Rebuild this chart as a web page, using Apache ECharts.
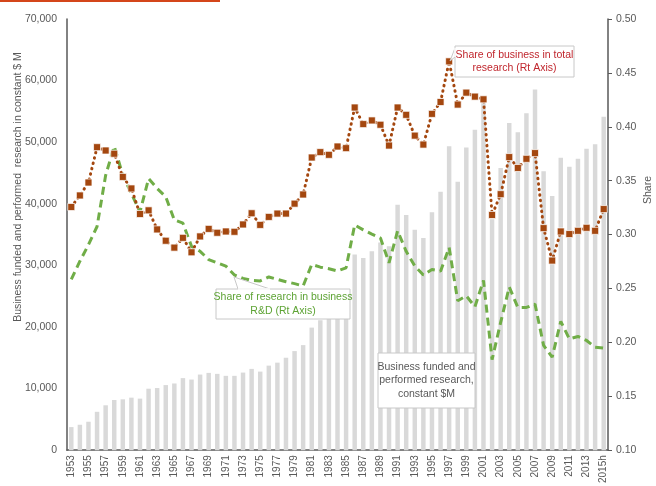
<!DOCTYPE html>
<html>
<head>
<meta charset="utf-8">
<script src="https://cdn.jsdelivr.net/npm/echarts@6/dist/echarts.min.js"></script>
<style>
  html, body { margin: 0; padding: 0; background: #fff; }
  #chart { width: 656px; height: 486px; }
</style>
</head>
<body>
<div id="chart"></div>
<script>
const years = [
  '1953', '1954', '1955', '1956', '1957', '1958', '1959', '1960', '1961', '1962',
  '1963', '1964', '1965', '1966', '1967', '1968', '1969', '1970', '1971', '1972',
  '1973', '1974', '1975', '1976', '1977', '1978', '1979', '1980', '1981', '1982',
  '1983', '1984', '1985', '1986', '1987', '1988', '1989', '1990', '1991', '1992',
  '1993', '1994', '1995', '1996', '1997', '1998', '1999', '2000', '2001', '2002',
  '2003', '2004', '2005', '2006', '2007', '2008', '2009', '2010', '2011', '2012',
  '2013', '2014', '2015h'
]

// business funded and performed research, constant $M (left axis)
const researchSpend = [
  3750, 4130, 4620, 6230, 7290, 8150, 8260, 8530, 8370, 9980,
  10090, 10570, 10830, 11700, 11470, 12280, 12550, 12390, 12070, 12070,
  12600, 13200, 12760, 13730, 14210, 15010, 16090, 17060, 19900, 21080,
  22500, 24000, 25800, 31750, 31220, 32290, 33700, 33090, 39850, 38190,
  35770, 34440, 38620, 41950, 49350, 43560, 49130, 52030, 56500, 37500,
  45800, 53100, 51600, 54700, 58570, 45300, 41250, 47470, 46020, 47310,
  48920, 49670, 54120
]

// share of business in total research (right axis)
const businessShare = [
  0.3256, 0.3363, 0.3483, 0.3811, 0.3780, 0.3750, 0.3535, 0.3428, 0.3191, 0.3225,
  0.3048, 0.2943, 0.2879, 0.2970, 0.2836, 0.2983, 0.3053, 0.3017, 0.3029, 0.3026,
  0.3094, 0.3198, 0.3090, 0.3164, 0.3195, 0.3195, 0.3287, 0.3372, 0.3715, 0.3765,
  0.3740, 0.3817, 0.3802, 0.4179, 0.4025, 0.4059, 0.4019, 0.3826, 0.4179, 0.4111,
  0.3918, 0.3835, 0.4120, 0.4230, 0.4607, 0.4206, 0.4317, 0.4280, 0.4255, 0.3182,
  0.3375, 0.3719, 0.3618, 0.3703, 0.3756, 0.3060, 0.2759, 0.3029, 0.3005, 0.3035,
  0.3063, 0.3035, 0.3237
]

// share of research in business R&D (right axis)
const researchShare = [
  0.2585, 0.2753, 0.2906, 0.3075, 0.3550, 0.3820, 0.3550, 0.3380, 0.3210, 0.3520,
  0.3428, 0.3350, 0.3136, 0.3106, 0.2891, 0.2845, 0.2768, 0.2738, 0.2708, 0.2625,
  0.2594, 0.2575, 0.2570, 0.2607, 0.2585, 0.2563, 0.2545, 0.2524, 0.2723, 0.2698,
  0.2683, 0.2662, 0.2692, 0.3090, 0.3044, 0.3005, 0.2968, 0.2738, 0.3035, 0.2845,
  0.2708, 0.2625, 0.2676, 0.2661, 0.2880, 0.2386, 0.2432, 0.2330, 0.2575, 0.1840,
  0.2186, 0.2514, 0.2324, 0.2324, 0.2355, 0.1972, 0.1864, 0.2195, 0.2033, 0.2055,
  0.2018, 0.1956, 0.1947
]

const fontFamily = 'Liberation Sans, Arial, sans-serif'
const axisGrey = '#595959'
const boxLine = '#c8c8c8'

// callout box: rectangle, centred text and an optional pointer wedge
function callout(x, y, w, h, text, color, pointer) {
  const els = []
  if (pointer) {
    els.push({
      type: 'polygon',
      z: 100,
      shape: { points: pointer },
      style: { fill: '#fff', stroke: boxLine, lineWidth: 1 }
    })
  }
  els.push({
    type: 'rect',
    z: 101,
    shape: { x: x, y: y, width: w, height: h },
    style: { fill: '#fff', stroke: boxLine, lineWidth: 1 }
  })
  if (pointer) {
    // hide the wedge base under the box edge
    els.push({
      type: 'polyline',
      z: 102,
      shape: { points: [pointer[0], pointer[2]] },
      style: { stroke: '#fff', lineWidth: 1.5 }
    })
  }
  els.push({
    type: 'text',
    z: 103,
    style: {
      x: x + w / 2,
      y: y + h / 2,
      text: text,
      fill: color,
      font: '10.5px ' + fontFamily,
      align: 'center',
      verticalAlign: 'middle',
      lineHeight: 13.5
    }
  })
  return els
}

const chart = echarts.init(document.getElementById('chart'), null, { renderer: 'canvas' })

chart.setOption({
  animation: false,
  textStyle: { fontFamily: fontFamily },
  grid: { left: 67, right: 48, top: 19, bottom: 32 },
  xAxis: {
    type: 'category',
    data: years,
    axisLine: { lineStyle: { color: axisGrey, width: 1.5 } },
    axisTick: { show: false },
    axisLabel: {
      rotate: 90,
      interval: 1,
      color: axisGrey,
      fontSize: 10,
      margin: 5
    }
  },
  yAxis: [{
    type: 'value',
    min: 0,
    max: 70000,
    interval: 10000,
    splitLine: { show: false },
    axisLine: { show: true, lineStyle: { color: axisGrey, width: 1.5 } },
    axisTick: { show: false },
    axisLabel: {
      color: axisGrey,
      fontSize: 10.5,
      margin: 10,
      formatter: v => v.toLocaleString('en-US')
    }
  }, {
    type: 'value',
    min: 0.1,
    max: 0.5,
    interval: 0.05,
    splitLine: { show: false },
    axisLine: { show: true, lineStyle: { color: axisGrey, width: 1.5 } },
    axisTick: { show: true, length: 4, lineStyle: { color: axisGrey } },
    axisLabel: {
      color: axisGrey,
      fontSize: 10.5,
      margin: 8,
      formatter: v => v.toFixed(2)
    }
  }],
  series: [{
    name: 'Business funded and performed research, constant $M',
    type: 'bar',
    data: researchSpend,
    barWidth: '52%',
    itemStyle: { color: '#d9d9d9' },
    z: 1
  }, {
    name: 'Share of research in business R&D',
    type: 'line',
    yAxisIndex: 1,
    data: researchShare,
    showSymbol: false,
    lineStyle: { color: '#70ad47', width: 3, type: [8, 5] },
    z: 3
  }, {
    name: 'Share of business in total research',
    type: 'line',
    yAxisIndex: 1,
    data: businessShare,
    symbol: 'rect',
    symbolSize: 7,
    showAllSymbol: true,
    itemStyle: { color: '#a4470f', borderColor: 'rgba(255,255,255,0.7)', borderWidth: 1 },
    lineStyle: { color: '#a4470f', width: 3, type: [0.5, 5], cap: 'round' },
    z: 4
  }],
  graphic: [
    {
      type: 'line',
      shape: { x1: 0, y1: 1, x2: 220, y2: 1 },
      style: { stroke: '#d4461a', lineWidth: 2 }
    },
    {
      type: 'text',
      rotation: Math.PI / 2,
      x: 18,
      y: 187,
      style: {
        text: 'Business funded and performed  research in constant $ M',
        fill: axisGrey,
        font: '10.5px ' + fontFamily,
        align: 'center',
        verticalAlign: 'middle'
      }
    },
    {
      type: 'text',
      rotation: Math.PI / 2,
      x: 648,
      y: 190,
      style: {
        text: 'Share',
        fill: axisGrey,
        font: '10.5px ' + fontFamily,
        align: 'center',
        verticalAlign: 'middle'
      }
    }
  ].concat(
    callout(455, 46, 119, 31, 'Share of business in total\nresearch (Rt Axis)', '#c0262d',
      [[455, 48], [450, 61], [455, 57]]),
    callout(216, 289, 134, 30, 'Share of research in business\nR&D (Rt Axis)', '#5da334',
      [[238, 289], [234, 277], [270, 289]]),
    callout(378, 353, 97, 55, 'Business funded and\nperformed research,\nconstant $M', axisGrey)
  )
})
</script>
</body>
</html>
